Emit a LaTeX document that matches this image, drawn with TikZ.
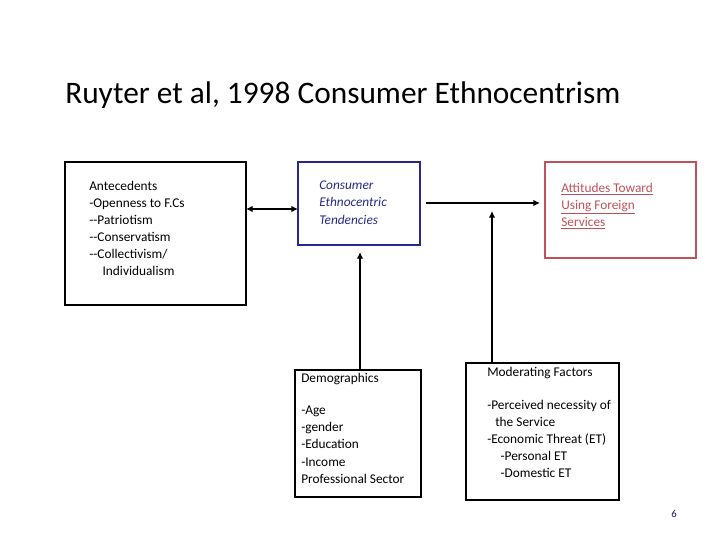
\documentclass[tikz,border=0pt]{standalone}
\usepackage{fontspec}
\setmainfont{Carlito}
\usetikzlibrary{arrows.meta}
\definecolor{bluec}{RGB}{40,40,140}
\definecolor{redc}{RGB}{192,80,90}
\begin{document}
\begin{tikzpicture}[x=0.75pt,y=-0.75pt,
 box/.style={draw,line width=1.2pt,inner sep=0pt},
 txt/.style={font=\fontsize{10}{12.8}\selectfont,align=left,anchor=north west,inner sep=0pt},
 arr/.style={line width=1.4pt,-{Latex[length=5pt,width=5pt]}}]
\useasboundingbox (0,0) rectangle (720,540);
\node[anchor=west,font=\fontsize{23.5}{28}\selectfont,inner sep=0pt] (title) at (65,95) {Ruyter et al, 1998 Consumer Ethnocentrism};
\draw[box] (65,162) rectangle (246,305);
\coordinate (b1r) at (246,209);
\node[txt] (t1) at (89,181) {Antecedents\\-Openness to F.Cs\\-{}-Patriotism\\-{}-Conservatism\\-{}-Collectivism/\\\hspace{10pt}Individualism};
\draw[box,draw=bluec] (298,162) rectangle (420,245);
\coordinate (b2l) at (298,209);
\coordinate (b2r) at (426,203);
\coordinate (b2b) at (360,252);
\node[txt,text=bluec,font=\fontsize{10}{12.8}\selectfont\itshape] (t2) at (319,181) {Consumer\\Ethnocentric\\Tendencies};
\draw[box,draw=redc] (545,162) rectangle (696,258);
\coordinate (b3l) at (540,203);
\node[txt,text=redc] (t3) at (561,183) {\underline{Attitudes Toward}\\\underline{Using Foreign}\\\underline{Services}};
\draw[box] (295,370) rectangle (421,497);
\coordinate (b4t) at (360,370);
\node[txt] (t4) at (301,373) {Demographics};
\node[txt] (t4b) at (301,406) {-Age\\-gender\\-Education\\-Income\\Professional Sector};
\draw[box] (466,363) rectangle (619,500);
\coordinate (b5t) at (492,363);
\coordinate (b5e) at (492,211);
\node[txt] (t5) at (487,367) {Moderating Factors};
\node[txt] (t5b) at (487,400) {-Perceived necessity of\\\hspace{6pt}the Service\\-Economic Threat (ET)\\\hspace{10pt}-Personal ET\\\hspace{10pt}-Domestic ET};
\node[font=\fontsize{8}{10}\selectfont,text=bluec!60!black] (pg) at (674,514) {6};
\draw[line width=1.4pt,{Latex[length=5pt,width=5pt]}-{Latex[length=5pt,width=5pt]}] (b1r) -- (b2l);
\draw[arr] (b2r) -- (b3l);
\draw[arr] (b4t) -- (b2b);
\draw[arr] (b5t) -- (b5e);
\end{tikzpicture}
\end{document}
